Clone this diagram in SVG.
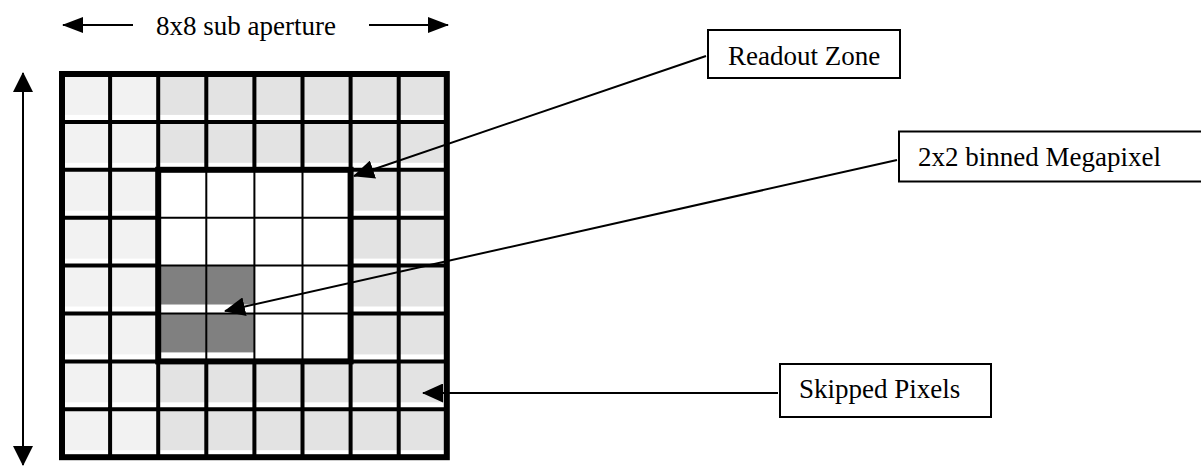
<svg xmlns="http://www.w3.org/2000/svg" width="1201" height="466" viewBox="0 0 1201 466">
<style>
text{font-family:"Liberation Serif","Times New Roman",serif;font-size:27px;fill:#000}
.box{fill:#fff;stroke:#000;stroke-width:2}
.con{fill:none;stroke:#000;stroke-width:2}
.g4{fill:none;stroke:#000;stroke-width:4}
.g2{fill:none;stroke:#000;stroke-width:2}
.g6{fill:none;stroke:#000;stroke-width:6}
</style>
<defs>
<pattern id="light" patternUnits="userSpaceOnUse" x="62" y="74" width="48.1" height="47.9"><rect x="0" y="0" width="48.1" height="40.9" fill="#f2f2f2"/></pattern>
<pattern id="mid" patternUnits="userSpaceOnUse" x="62" y="74" width="48.1" height="47.9"><rect x="0" y="0" width="48.1" height="40.9" fill="#e3e3e3"/></pattern>
<pattern id="grey" patternUnits="userSpaceOnUse" x="62" y="74" width="48.1" height="47.9"><rect x="0" y="0" width="48.1" height="38.9" fill="#808080"/></pattern>
<marker id="ah" markerUnits="userSpaceOnUse" viewBox="0 0 21 19" markerWidth="21" markerHeight="19" refX="20" refY="9.5" orient="auto"><path d="M0,0 L21,9.5 L0,19 z" fill="#000"/></marker>
<marker id="ahs" markerUnits="userSpaceOnUse" viewBox="0 0 21 16" markerWidth="21" markerHeight="16" refX="20" refY="8" orient="auto-start-reverse"><path d="M0,0 L21,8 L0,16 z" fill="#000"/></marker>
<marker id="ahv" markerUnits="userSpaceOnUse" viewBox="0 0 20 20" markerWidth="20" markerHeight="20" refX="19" refY="10" orient="auto-start-reverse"><path d="M0,0 L20,10 L0,20 z" fill="#000"/></marker>
</defs>
<rect width="1201" height="466" fill="#fff"/>
<g id="grid">
<rect x="62" y="74" width="96.2" height="383.2" fill="url(#light)"/>
<rect x="158.2" y="74" width="288.6" height="95.8" fill="url(#mid)"/>
<rect x="158.2" y="361.4" width="288.6" height="95.8" fill="url(#mid)"/>
<rect x="350.6" y="169.8" width="96.2" height="191.6" fill="url(#mid)"/>
<path class="g4" d="M110.1,74V457.2M158.2,74V457.2M206.3,74V169.8M206.3,361.4V457.2M254.4,74V169.8M254.4,361.4V457.2M302.5,74V169.8M302.5,361.4V457.2M350.6,74V457.2M398.7,74V457.2M62,121.9H446.8M62,169.8H446.8M62,217.7H158.2M350.6,217.7H446.8M62,265.6H158.2M350.6,265.6H446.8M62,313.5H158.2M350.6,313.5H446.8M62,361.4H446.8M62,409.3H446.8"/>
<rect x="62" y="74" width="384.8" height="383.2" class="g6"/>
</g>
<g id="readout-zone">
<rect x="158.2" y="265.6" width="96.2" height="95.8" fill="url(#grey)"/>
<path class="g2" d="M206.3,169.8V361.4M254.4,169.8V361.4M302.5,169.8V361.4M158.2,217.7H350.6M158.2,265.6H350.6M158.2,313.5H350.6"/>
<rect x="158.2" y="169.8" width="192.4" height="191.6" class="g6"/>
</g>
<g id="dimensions">
<text x="156" y="35">8x8 sub aperture</text>
<path class="con" d="M133,25H63" stroke-width="2.5" marker-end="url(#ahs)"/>
<path class="con" d="M369,25H448" stroke-width="2.5" marker-end="url(#ahs)"/>
<path class="con" d="M23,73V465" marker-start="url(#ahv)" marker-end="url(#ahv)"/>
</g>
<g id="label-readout">
<rect x="708" y="30" width="192" height="48" class="box"/>
<text x="728" y="65">Readout Zone</text>
</g>
<g id="label-megapixel">
<rect x="899" y="131.5" width="320" height="50" class="box"/>
<text x="918" y="166">2x2 binned Megapixel</text>
</g>
<g id="label-skipped">
<rect x="780" y="364" width="211" height="53" class="box"/>
<text x="799" y="398">Skipped Pixels</text>
</g>
<g id="connectors">
<path class="con" d="M706,56L354,176" marker-end="url(#ah)"/>
<path class="con" d="M897,160L225,311" marker-end="url(#ah)"/>
<path class="con" d="M778,393H423" marker-end="url(#ah)"/>
</g>
</svg>
